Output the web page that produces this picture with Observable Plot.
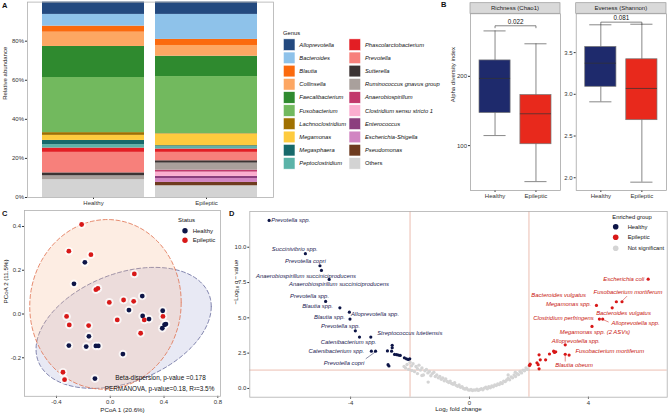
<!DOCTYPE html>
<html><head><meta charset="utf-8">
<script src="https://cdn.jsdelivr.net/npm/d3@7"></script>
<script src="https://cdn.jsdelivr.net/npm/@observablehq/plot@0.6"></script>
<style>
body{margin:0;background:#fff;}
#fig{position:relative;width:669px;height:416px;overflow:hidden;background:#fff;}
#fig svg{position:absolute;}
</style></head><body><div id="fig"></div>
<script>
// ---------------- DATA ----------------
// Panel A: genus relative abundance (%)
const genera = ["Alloprevotella","Bacteroides","Blautia","Collinsella","Faecalibacterium","Fusobacterium","Lachnoclostridium","Megamonas","Megasphaera","Peptoclostridium","Phascolarctobacterium","Prevotella","Sutterella","Ruminococcus gnavus group","Anaerobiospirillum","Clostridium sensu stricto 1","Enterococcus","Escherichia-Shigella","Pseudomonas","Others"];
const genusColors = ["#23497f","#8ec2ea","#fb6a0e","#fda763","#2f8a2f","#72b95e","#a07000","#fecb3e","#17696b","#5bb3a8","#e31e24","#f7807b","#3b3333","#a9a09c","#c2386c","#fbaed0","#8c3f7e","#d185c2","#6e3b1f","#d3d3d3"];
const barGroups = ["Healthy","Epileptic"];
const healthyAbundance   = [6.3, 6.0, 3.1, 7.3, 15.9, 28.2, 1.4, 2.6, 2.2, 1.7, 2.2, 10.5, 1.5, 2.0, 0, 0, 0, 0, 0, 9.1];
const epilepticAbundance = [6.3, 12.8, 3.1, 5.5, 10.4, 29.2, 0.2, 6.0, 0.5, 1.2, 1.7, 4.3, 1.2, 3.6, 1.0, 2.2, 1.1, 2.0, 1.7, 6.0];
const abundanceTicks = [0, 0.2, 0.4, 0.6, 0.8];

// Panel B: alpha diversity box statistics [Healthy, Epileptic]
const alphaGroups = ["Healthy","Epileptic"];
const chao1Min = [114.5, 48], chao1Q1 = [147, 102], chao1Median = [197, 146], chao1Q3 = [223, 173], chao1Max = [265.6, 247];
const shannonMin = [2.91, 1.947], shannonQ1 = [3.09, 2.69], shannonMedian = [3.373, 3.07], shannonQ3 = [3.568, 3.42], shannonMax = [3.833, 3.84];
const alphaPvalues = ["0.022", "0.081"];
const chao1Ticks = [100, 200], shannonTicks = [2.0, 2.5, 3.0, 3.5];

// Panel C: PCoA coordinates
const healthyPC1 = [-0.189,-0.270,0.238,0.139,0.241,0.288,0.390,0.404,0.414,0.387,-0.159,-0.308,-0.179,-0.107,-0.089,0.094,-0.114];
const healthyPC2 = [0.236,0.138,0.082,0.018,-0.009,-0.023,0.015,-0.049,-0.046,-0.065,-0.102,-0.144,-0.149,-0.146,-0.146,-0.183,-0.295];
const epilepticPC1 = [-0.213,-0.308,-0.144,0.179,-0.092,-0.107,-0.007,0.099,0.174,-0.325,-0.305,-0.161,0.052,0.253,0.392,0.226,-0.352,-0.340];
const epilepticPC2 = [0.409,0.287,0.271,0.183,0.117,0.111,0.053,0.064,0.058,-0.011,-0.050,-0.053,-0.027,-0.027,-0.011,-0.088,-0.266,-0.300];
const pcoaTicksX = [-0.4, 0.0, 0.4, 0.8], pcoaTicksY = [-0.2, 0.0, 0.2, 0.4];
const betaTexts = ["Beta-dispersion, p-value =0.178", "PERMANOVA, p-value=0.18, R\u00b2=3.5%"];

// Panel D: volcano
const healthyLFC = [-6.74,-5.52,-5.03,-4.98,-4.72,-4.84,-4.36,-4.04,-4.02,-3.84,-3.70,-3.32,-3.30,-3.16,-2.60,-2.60,-2.76,-2.62,-2.52,-2.45,-2.39,-2.33,-2.19,-2.12,-2.06,-2.01,-2.74,-2.71];
const healthyQ   = [11.9,9.54,8.69,8.36,7.72,6.16,5.71,5.40,4.91,4.08,3.64,3.64,2.64,2.64,3.05,2.88,2.66,2.64,2.41,2.39,2.36,2.34,2.17,2.10,2.05,2.10,1.68,1.59];
const epilepticLFC = [6.01,4.94,5.13,4.27,4.80,4.37,4.48,4.12,3.22,2.34,2.38,2.56,2.69,2.83,2.90,2.86,3.22,3.35,2.02,2.04,2.27,2.31,2.34];
const epilepticQ   = [7.74,6.14,6.14,5.88,5.71,4.91,4.91,4.39,3.09,2.38,2.03,2.03,2.44,2.64,2.60,2.55,2.42,2.36,1.63,1.72,1.82,1.68,1.39];
const nsLFC = [-2.2,-2.15,-2.1,-2.05,-2.0,-1.95,-1.9,-1.85,-1.8,-1.75,-1.7,-1.65,-1.6,-1.55,-1.5,-1.45,-1.4,-1.35,-1.3,-1.25,-1.2,-1.15,-1.1,-1.05,-1.0,-0.95,-0.9,-0.85,-0.8,-0.75,-0.7,-0.65,-0.6,-0.55,-0.5,-0.45,-0.4,-0.35,-0.3,-0.25,-0.2,-0.15,-0.1,-0.05,0.0,0.05,0.1,0.15,0.2,0.25,0.3,0.35,0.4,0.45,0.5,0.55,0.6,0.65,0.7,0.75,0.8,0.85,0.9,0.95,1.0,1.05,1.1,1.15,1.2,1.25,1.3,1.35,1.4,1.45,1.5,1.55,1.6,1.65,1.7,1.75,1.8,1.85,1.9,1.95,2.0,-1.94,-1.6,-1.39,-1.75,1.54,1.3];
const nsQ   = [1.55,1.45,1.70,1.35,1.85,1.60,1.75,1.20,1.55,1.40,1.65,1.30,1.45,0.95,1.25,1.35,1.10,1.20,0.90,1.05,1.15,0.85,0.95,0.75,0.85,0.65,0.75,0.55,0.68,0.50,0.42,0.52,0.35,0.30,0.40,0.22,0.15,0.25,0.08,0.12,0.0,-0.05,0.02,-0.10,-0.12,-0.08,-0.15,-0.10,-0.12,-0.05,-0.14,-0.08,-0.02,-0.10,0.02,0.08,-0.02,0.12,0.05,0.18,0.12,0.25,0.20,0.32,0.28,0.40,0.35,0.52,0.48,0.60,0.70,0.62,0.82,0.75,0.95,0.85,1.05,0.98,1.20,1.10,1.30,1.25,1.45,1.35,1.60,1.27,0.92,0.45,1.05,1.15,0.95];
const healthyLabels = ["Prevotella spp.","Succinivibrio spp.","Prevotella copri","Anaerobiospirillum succiniciproducens","Anaerobiospirillum succiniciproducens","Prevotella spp.","Blautia spp.","Alloprevotella spp.","Blautia spp.","Prevotella spp.","Streptococcus lutetiensis","Catenibacterium spp.","Catenibacterium spp.","Prevotella copri"];
const healthyLabelX = [-6.67,-5.88,-5.52,-5.50,-4.39,-5.38,-5.11,-3.18,-4.71,-4.34,-2.01,-4.07,-4.48,-4.22];
const healthyLabelY = [11.9,9.87,9.04,7.98,7.37,6.57,5.83,5.26,5.03,4.41,3.94,3.31,2.62,1.82];
const healthyLabelAnchor = ["start","middle","middle","middle","middle","middle","middle","middle","middle","middle","middle","middle","middle","middle"];
const epilepticLabels = ["Escherichia coli","Bacteroides vulgatus","Fusobacterium mortiferum","Megamonas spp.","Bacteroides vulgatus","Clostridium perfringens","Alloprevotella spp.","Megamonas spp. (2 ASVs)","Alloprevotella spp.","Fusobacterium mortiferum","Blautia obeum"];
const epilepticLabelX = [5.88,3.00,5.33,3.33,5.18,3.16,5.59,4.22,3.58,4.72,3.52];
const epilepticLabelY = [7.74,6.64,6.80,5.97,5.36,4.98,4.62,3.99,3.38,2.67,1.68];
const epilepticLabelAnchor = ["end","middle","middle","middle","middle","middle","middle","middle","middle","middle","middle"];
// leader segments [x1,y1,x2,y2]
const healthyLeaders = [[-3.49,2.10,-3.16,2.60]];
const epilepticLeaders = [[5.30,6.54,5.13,6.18],[3.22,1.91,3.22,2.36],[4.51,4.86,4.68,4.70]];
const volcanoTicksX = [-4, 0, 4], volcanoTicksY = [0, 2.5, 5, 7.5, 10];
const lfcCutoff = 2, qCutoff = -Math.log10(0.05);

// ---------------- STYLE ----------------
const FONT = '"Liberation Sans", Arial, Helvetica, sans-serif';
const NAVY = "#0d1547", RED = "#d81818", GREY = "#d4d4d4";
const fig = document.getElementById("fig");
function place(svg, left, top) { svg.style.left = left + "px"; svg.style.top = top + "px"; fig.appendChild(svg); }
const baseStyle = {fontFamily: FONT, fontSize: "6px", color: "#333", background: "none", overflow: "visible"};

// ---------------- PANEL A ----------------
const rowsA = barGroups.flatMap((g, gi) => {
  const vals = gi === 0 ? healthyAbundance : epilepticAbundance;
  return genera.map((genus, i) => ({group: g, genus, value: vals[i] / 100})).reverse();
});
place(Plot.plot({
  width: 275, height: 210, marginLeft: 27, marginRight: 2, marginTop: 1.6, marginBottom: 13,
  style: baseStyle,
  x: {domain: barGroups, paddingInner: 0.097, paddingOuter: 0.133, label: null, tickSize: 2, tickPadding: 1.5},
  y: {domain: [0, 1], ticks: abundanceTicks, tickFormat: d => Math.round(d * 100) + "%", label: null, tickSize: 2, tickPadding: 1.5},
  color: {domain: genera, range: genusColors},
  marks: [
    Plot.barY(rowsA, {x: "group", y: "value", fill: "genus"}),
    Plot.frame({stroke: "#b0b0b0", strokeWidth: 0.8}),
    Plot.text(["Relative abundance"], {frameAnchor: "left", rotate: -90, dx: -22, fontSize: 6, fill: "#222"})
  ]
}), 0, 0);

// ---------------- PANEL B ----------------
function alphaPanel(o) {
  const rows = alphaGroups.map((g, i) => ({pos: i + 1, group: g, min: o.mins[i], q1: o.q1s[i], med: o.meds[i], q3: o.q3s[i], max: o.maxs[i]}));
  const bracket = [{x: 1, y: o.bracketY - o.tip}, {x: 1, y: o.bracketY}, {x: 2, y: o.bracketY}, {x: 2, y: o.bracketY - o.tip}];
  const marks = [
    Plot.ruleX(rows, {x: "pos", y1: "min", y2: "max", stroke: "#555", strokeWidth: 0.7}),
    Plot.ruleY(rows, {y: "max", x1: d => d.pos - 0.27, x2: d => d.pos + 0.27, stroke: "#555", strokeWidth: 0.7}),
    Plot.ruleY(rows, {y: "min", x1: d => d.pos - 0.27, x2: d => d.pos + 0.27, stroke: "#555", strokeWidth: 0.7}),
    Plot.rect(rows, {x1: d => d.pos - 0.38, x2: d => d.pos + 0.38, y1: "q1", y2: "q3", fill: "group", stroke: "#777", strokeWidth: 0.7}),
    Plot.ruleY(rows, {y: "med", x1: d => d.pos - 0.38, x2: d => d.pos + 0.38, stroke: "#333", strokeWidth: 0.7}),
    Plot.line(bracket, {x: "x", y: "y", stroke: "#333", strokeWidth: 0.6}),
    Plot.text([o.pval], {x: () => 1.5, y: () => o.bracketY, dy: -4, fontSize: 6.3, fill: "#111"}),
    Plot.frame({stroke: "#999", strokeWidth: 0.7})
  ];
  if (o.ylabel) marks.push(Plot.text([o.ylabel], {frameAnchor: "left", rotate: -90, dx: -17.3, fontSize: 6, fill: "#222"}));
  return Plot.plot({
    width: o.width, height: 210, marginLeft: o.marginLeft, marginRight: o.marginRight, marginTop: 13.3, marginBottom: 20,
    style: baseStyle,
    x: {domain: [0.4, 2.6], ticks: [1, 2], tickFormat: i => alphaGroups[i - 1], label: null, tickSize: 2, tickPadding: 1.5},
    y: {domain: o.domain, ticks: o.ticks, tickFormat: o.fmt, label: null, tickSize: 2, tickPadding: 1.5},
    color: {domain: alphaGroups, range: ["#1e2a6c", "#e8291c"]},
    marks
  });
}
place(alphaPanel({width: 121, marginLeft: 30, marginRight: 1, domain: [35.2, 290.3], ticks: chao1Ticks, fmt: d => String(d),
  mins: chao1Min, q1s: chao1Q1, meds: chao1Median, q3s: chao1Q3, maxs: chao1Max, bracketY: 273, tip: 2.9, pval: alphaPvalues[0], ylabel: "Alpha diversity index"}), 440, 0);
place(alphaPanel({width: 108, marginLeft: 14.7, marginRight: 3, domain: [1.847, 3.965], ticks: shannonTicks, fmt: d => d.toFixed(1),
  mins: shannonMin, q1s: shannonQ1, meds: shannonMedian, q3s: shannonQ3, maxs: shannonMax, bracketY: 3.865, tip: 0.024, pval: alphaPvalues[1]}), 561, 0);

// ---------------- PANEL C ----------------
function trobEllipse(xs, ys, level) {
  const n = xs.length, p = 2, nu = 5;
  let w = xs.map(() => 1);
  let lx = d3.mean(xs), ly = d3.mean(ys);
  let DX, DY;
  for (let it = 0; it < 25; it++) {
    const w0 = w.slice();
    DX = xs.map(v => v - lx); DY = ys.map(v => v - ly);
    const sw = d3.sum(w);
    const sxx = d3.sum(DX, (v, i) => w[i] * v * v) / sw;
    const syy = d3.sum(DY, (v, i) => w[i] * v * v) / sw;
    const sxy = d3.sum(DX, (v, i) => w[i] * v * DY[i]) / sw;
    const det = sxx * syy - sxy * sxy;
    const Q = DX.map((v, i) => (syy * v * v - 2 * sxy * v * DY[i] + sxx * DY[i] * DY[i]) / det);
    w = Q.map(q => (nu + p) / (nu + q));
    const ws = d3.sum(w);
    lx = d3.sum(xs, (v, i) => w[i] * v) / ws; ly = d3.sum(ys, (v, i) => w[i] * v) / ws;
    if (w.every((v, i) => Math.abs(v - w0[i]) < 0.01)) break;
  }
  const cxx = d3.sum(DX, (v, i) => w[i] * v * v) / n;
  const cyy = d3.sum(DY, (v, i) => w[i] * v * v) / n;
  const cxy = d3.sum(DX, (v, i) => w[i] * v * DY[i]) / n;
  const d = n - 1;
  const fq = (d / 2) * (Math.pow(1 - level, -2 / d) - 1);
  const radius = Math.sqrt(2 * fq);
  const a = Math.sqrt(cxx), b = cxy / a, c = Math.sqrt(cyy - b * b);
  return d3.range(0, 101).map(k => {
    const t = 2 * Math.PI * k / 100;
    return {x: lx + radius * a * Math.cos(t), y: ly + radius * (b * Math.cos(t) + c * Math.sin(t))};
  });
}
const ellH = trobEllipse(healthyPC1, healthyPC2, 0.95);
const ellE = trobEllipse(epilepticPC1, epilepticPC2, 0.95);
const ptsH = healthyPC1.map((x, i) => ({x, y: healthyPC2[i]}));
const ptsE = epilepticPC1.map((x, i) => ({x, y: epilepticPC2[i]}));
const fmt1 = d => d.toFixed(1);
place(Plot.plot({
  width: 232, height: 211, marginLeft: 24, marginRight: 12, marginTop: 5, marginBottom: 20.2,
  style: baseStyle,
  x: {domain: [-0.638, 0.82], ticks: pcoaTicksX, tickFormat: fmt1, label: null, tickSize: 2, tickPadding: 1.5},
  y: {domain: [-0.376, 0.473], ticks: pcoaTicksY, tickFormat: fmt1, label: null, tickSize: 2, tickPadding: 1.5},
  marks: [
    Plot.line(ellH, {x: "x", y: "y", fill: "#a3a6d2", fillOpacity: 0.25, stroke: "#64689a", strokeWidth: 0.8, strokeDasharray: "4,2.5"}),
    Plot.line(ellE, {x: "x", y: "y", fill: "#f6b98f", fillOpacity: 0.25, stroke: "#e0704e", strokeWidth: 0.8, strokeDasharray: "4,2.5"}),
    Plot.dot(ptsH, {x: "x", y: "y", r: 4.3, fill: "white", fillOpacity: 0.75}),
    Plot.dot(ptsE, {x: "x", y: "y", r: 4.3, fill: "white", fillOpacity: 0.75}),
    Plot.dot(ptsH, {x: "x", y: "y", r: 2.4, fill: NAVY}),
    Plot.dot(ptsE, {x: "x", y: "y", r: 2.4, fill: RED}),
    Plot.text([betaTexts[0]], {frameAnchor: "bottom", dx: 38, dy: -16.8, fontSize: 6.4, fill: "#111"}),
    Plot.text([betaTexts[1]], {frameAnchor: "bottom", dx: 37, dy: -5.8, fontSize: 6.4, fill: "#111"}),
    Plot.frame({stroke: "#b0b0b0", strokeWidth: 0.8}),
    Plot.text(["PCoA 1 (20.6%)"], {frameAnchor: "bottom", dy: 15.9, fontSize: 6.2, fill: "#222"}),
    Plot.text(["PCoA 2 (11.5%)"], {frameAnchor: "left", rotate: -90, dx: -18, fontSize: 6.2, fill: "#222"})
  ]
}), 0, 205);

// ---------------- PANEL D ----------------
const sigH = healthyLFC.map((x, i) => ({x, y: healthyQ[i]}));
const sigE = epilepticLFC.map((x, i) => ({x, y: epilepticQ[i]}));
const ns = nsLFC.map((x, i) => ({x, y: nsQ[i]}));
const labH = healthyLabels.map((t, i) => ({t, x: healthyLabelX[i], y: healthyLabelY[i], a: healthyLabelAnchor[i]}));
const labE = epilepticLabels.map((t, i) => ({t, x: epilepticLabelX[i], y: epilepticLabelY[i], a: epilepticLabelAnchor[i]}));
const textMarks = (labs, color) => ["start", "middle", "end"].map(anchor =>
  Plot.text(labs.filter(d => d.a === anchor), {x: "x", y: "y", text: "t", textAnchor: anchor, fontSize: 5.9, fontStyle: "italic", fill: color}));
place(Plot.plot({
  width: 437, height: 211, marginLeft: 17.3, marginRight: 2.3, marginTop: 6, marginBottom: 19.3,
  style: baseStyle,
  x: {domain: [-7.39, 6.65], ticks: volcanoTicksX, tickFormat: d => String(d), label: null, tickSize: 2, tickPadding: 1.5},
  y: {domain: [-0.62, 12.53], ticks: volcanoTicksY, tickFormat: fmt1, label: null, tickSize: 2, tickPadding: 1.5},
  marks: [
    Plot.ruleX([-lfcCutoff, lfcCutoff], {stroke: "#e3a08e", strokeWidth: 0.7}),
    Plot.ruleY([qCutoff], {stroke: "#e3a08e", strokeWidth: 0.7}),
    Plot.dot(ns, {x: "x", y: "y", r: 1.7, fill: GREY}),
    Plot.link(healthyLeaders, {x1: d => d[0], y1: d => d[1], x2: d => d[2], y2: d => d[3], stroke: "#1a2151", strokeWidth: 0.5}),
    Plot.link(epilepticLeaders, {x1: d => d[0], y1: d => d[1], x2: d => d[2], y2: d => d[3], stroke: "#c8140c", strokeWidth: 0.5}),
    Plot.dot(sigH, {x: "x", y: "y", r: 1.6, fill: NAVY}),
    Plot.dot(sigE, {x: "x", y: "y", r: 1.6, fill: RED}),
    ...textMarks(labH, "#1a2151"),
    ...textMarks(labE, "#c8140c"),
    Plot.frame({stroke: "#b0b0b0", strokeWidth: 0.8}),
    Plot.text(["Log\u2082 fold change"], {frameAnchor: "bottom", dy: 13.3, fontSize: 6.2, fill: "#222"}),
    Plot.text(["\u2212Log\u2081\u2080 q\u2009\u2212\u2009value"], {frameAnchor: "left", rotate: -90, dx: -13.3, fontSize: 6.2, fill: "#222"})
  ]
}), 232, 205);

// ---------------- OVERLAY: legends, strips, panel letters ----------------
const ov = d3.create("svg").attr("width", 669).attr("height", 416)
  .style("left", "0px").style("top", "0px").style("pointer-events", "none").style("font-family", FONT);
function txt(x, y, s, size, opts = {}) {
  const t = ov.append("text").attr("x", x).attr("y", y).attr("dominant-baseline", "central")
    .attr("font-size", size).attr("fill", opts.fill || "#111").text(s);
  if (opts.anchor) t.attr("text-anchor", opts.anchor);
  if (opts.italic) t.attr("font-style", "italic");
  if (opts.bold) t.attr("font-weight", "bold");
  return t;
}
// panel letters
txt(2, 5, "A", 7.5, {bold: true});
txt(441, 4.5, "B", 7.5, {bold: true});
txt(2, 213.5, "C", 7.5, {bold: true});
txt(229, 213.5, "D", 7.5, {bold: true});
// A legend
txt(283, 32.5, "Genus", 5.8);
genera.forEach((g, i) => {
  const col = i < 10 ? 0 : 1, row = i % 10;
  const kx = col === 0 ? 283.3 : 349, tx = col === 0 ? 299.3 : 365;
  const cy = 44.7 + row * 13.18;
  ov.append("rect").attr("x", kx).attr("y", cy - 5.85).attr("width", 11.7).attr("height", 11.7)
    .attr("fill", genusColors[i]).attr("stroke", "#fff").attr("stroke-width", 0.6);
  txt(tx, cy, g, 5.8, {italic: g !== "Others"});
});
// B strips
[[470, 560, "Richness (Chao1)"], [575.7, 666, "Eveness (Shannon)"]].forEach(([x0, x1, s]) => {
  ov.append("rect").attr("x", x0).attr("y", 2.7).attr("width", x1 - x0).attr("height", 10.6)
    .attr("fill", "#d9d9d9").attr("stroke", "#999").attr("stroke-width", 0.7);
  txt((x0 + x1) / 2, 8.1, s, 6, {anchor: "middle", fill: "#1a1a1a"});
});
// C legend
txt(178, 220, "Status", 6);
[["Healthy", NAVY, 230.7], ["Epileptic", RED, 240.3]].forEach(([s, c, y]) => {
  ov.append("circle").attr("cx", 185).attr("cy", y).attr("r", 2.7).attr("fill", c);
  txt(192.7, y, s, 6);
});
// D legend
txt(612.3, 217.3, "Enriched group", 5.8);
[["Healthy", NAVY, 226.7], ["Epileptic", RED, 237.3], ["Not significant", GREY, 248.3]].forEach(([s, c, y]) => {
  ov.append("circle").attr("cx", 615.7).attr("cy", y).attr("r", 2.8).attr("fill", c);
  txt(627.7, y, s, 5.8);
});
fig.appendChild(ov.node());
</script></body></html>
